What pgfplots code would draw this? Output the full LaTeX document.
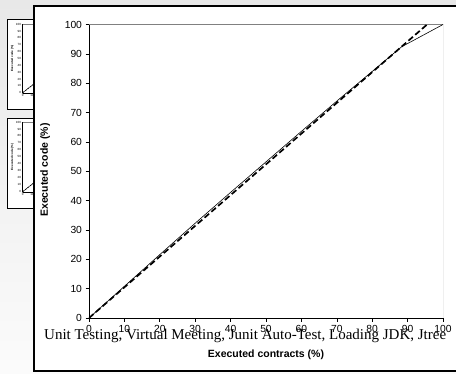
\documentclass[border=0pt]{standalone}
\usepackage{fontspec}
\setmainfont{Liberation Serif}
\newfontfamily\arial{Liberation Sans}
\usepackage{pgfplots}
\pgfplotsset{compat=1.18}
\pgfplotstableread{
x y
0 0
10 10.8
20 21.6
30 32.3
40 42.8
50 53.2
60 63.6
70 73.9
80 84.0
88.3 92.4
100 100
}\solid
\pgfplotstableread{
x y
0 0
100 104.7
}\fit
\pgfplotsset{
  thumb/.style={
    scale only axis, anchor=south west,
    width=93pt, height=68.5pt,
    xmin=0, xmax=100, ymin=0, ymax=100,
    axis x line=bottom, axis y line=left,
    axis line style={-, line width=0.4pt},
    xtick={0,10,...,100}, ytick={0,10,...,100},
    tick align=outside, major tick length=1pt,
    tick style={line width=0.3pt},
    tick label style={font=\arial\fontsize{3}{3.5}\selectfont, inner sep=0.5pt},
    /pgf/number format/assume math mode=true,
    ylabel={Executed code (\%)},
    ylabel style={font=\arial\bfseries\fontsize{3}{3.5}\selectfont, at={(axis description cs:-0.11,0.5)}, anchor=center},
    clip=true,
  }
}
\begin{document}
\begin{tikzpicture}[x=1pt,y=1pt]
\useasboundingbox (0,0) rectangle (456,373);
\clip (0,0) rectangle (456,373);
\shade[top color=gray!18, bottom color=gray!3] (0,0) rectangle (456,373);
% thumbnails
\draw[black, line width=0.9pt, fill=white] (7,264) rectangle (80,354);
\begin{axis}[thumb, at={(22.7pt,280.3pt)}]
\draw[gray, line width=0.3pt] (rel axis cs:0,1) -- (rel axis cs:1,1);
\addplot[black, line width=0.3pt] table[x=x,y=y] {\solid};
\addplot[black, line width=0.6pt, dash pattern=on 2pt off 1pt] table[x=x,y=y] {\fit};
\end{axis}
\draw[black, line width=0.9pt, fill=white] (7,165) rectangle (80,255);
\begin{axis}[thumb, at={(22.7pt,181.3pt)}, height=69.7pt]
\draw[gray, line width=0.3pt] (rel axis cs:0,1) -- (rel axis cs:1,1);
\addplot[black, line width=0.3pt] table[x=x,y=y] {\solid};
\addplot[black, line width=0.6pt, dash pattern=on 2pt off 1pt] table[x=x,y=y] {\fit};
\end{axis}
% main box
\draw[black, line width=1.1pt, fill=white] (34,2) rectangle (480,367);
\begin{axis}[
  at={(89pt,55pt)}, anchor=south west,
  scale only axis, width=354pt, height=293.5pt,
  xmin=0, xmax=100, ymin=0, ymax=100,
  axis x line=bottom, axis y line=left,
  axis line style={-, line width=0.8pt},
  xtick={0,10,...,100}, ytick={0,10,...,100},
  tick align=outside, major tick length=3.5pt,
  tick style={black, line width=0.6pt},
  tick label style={font=\arial\fontsize{10.3}{12}\selectfont},
  /pgf/number format/assume math mode=true,
  xlabel={Executed contracts (\%)},
  ylabel={Executed code (\%)},
  label style={font=\arial\bfseries\fontsize{10.5}{12}\selectfont},
  xlabel style={at={(axis description cs:0.5,-0.126)}, anchor=center},
  ylabel style={at={(axis description cs:-0.124,0.504)}, anchor=center},
  clip=true,
]
\draw[gray, line width=0.6pt] (rel axis cs:0,1) -- (rel axis cs:1,1) -- (rel axis cs:1,0);
\addplot[black, line width=0.6pt] table[x=x,y=y] {\solid};
\addplot[black, line width=1.7pt, dash pattern=on 6pt off 3pt] table[x=x,y=y] {\fit};
\end{axis}
\node[anchor=base west, font=\fontsize{15}{18}\selectfont, inner sep=0pt] at (44,34) {Unit Testing, Virtual Meeting, Junit Auto-Test, Loading JDK, Jtree};
\end{tikzpicture}
\end{document}
